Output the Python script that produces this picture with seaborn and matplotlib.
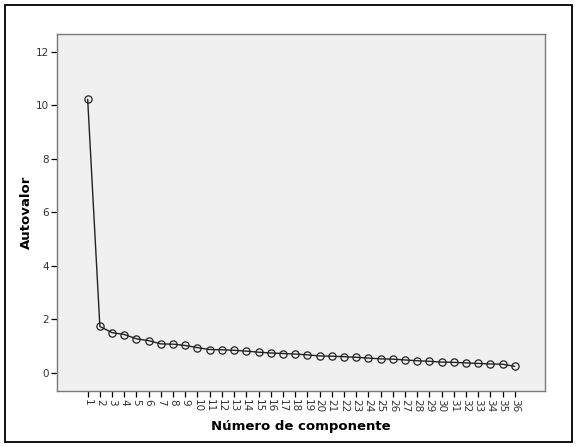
import matplotlib
matplotlib.use('Agg')
import matplotlib.pyplot as plt
import pandas as pd
import seaborn as sns
from matplotlib.patches import Rectangle

# scree plot values
componentes = list(range(1, 37))
autovalores = [10.22, 1.73, 1.50, 1.43, 1.27, 1.20, 1.08, 1.07, 1.02, 0.94,
               0.87, 0.86, 0.84, 0.81, 0.77, 0.74, 0.72, 0.70, 0.67, 0.63,
               0.62, 0.60, 0.58, 0.55, 0.52, 0.51, 0.48, 0.45, 0.43, 0.40,
               0.39, 0.37, 0.35, 0.33, 0.32, 0.24]
y_ticks = [0, 2, 4, 6, 8, 10, 12]

df = pd.DataFrame({'componente': componentes, 'autovalor': autovalores})

sns.set_theme(style="white")
plt.rcParams['font.family'] = ['DejaVu Sans']

fig = plt.figure(figsize=(5.78, 4.47), dpi=100)
ax = fig.add_axes([0.0991, 0.1253, 0.8439, 0.7987])
ax.set_facecolor('#f0f0f0')

sns.lineplot(data=df, x='componente', y='autovalor', ax=ax, color='#222222',
             linewidth=1.0, marker='o', markersize=5.2, markerfacecolor='none',
             markeredgecolor='#222222', markeredgewidth=0.9)

ax.set_xlim(-1.49, 38.48)
ax.set_ylim(-0.68, 12.66)
ax.set_xticks(componentes)
ax.set_xticklabels([str(c) for c in componentes], rotation=-90, fontsize=7.5, color='#333333')
ax.set_yticks(y_ticks)
ax.set_yticklabels([str(v) for v in y_ticks], fontsize=7.5, color='#333333')
ax.tick_params(axis='both', direction='out', length=4.5, width=0.9, color='black',
               bottom=True, left=True, pad=1.5)

for side in ['top', 'right', 'bottom', 'left']:
    ax.spines[side].set_color('#7a7a7a')
    ax.spines[side].set_linewidth(1.0)

ax.set_xlabel('Número de componente', fontsize=9.5, fontweight='bold', labelpad=5,
              color='black')
ax.set_ylabel('Autovalor', fontsize=9.5, fontweight='bold', labelpad=2,
              color='black')

# outer frame round the whole chart
fig.patches.append(Rectangle((5 / 578, 5 / 447), 567 / 578, 437 / 447,
                             transform=fig.transFigure, fill=False,
                             edgecolor='black', linewidth=1.3))

plt.savefig('out.png', dpi=100)
